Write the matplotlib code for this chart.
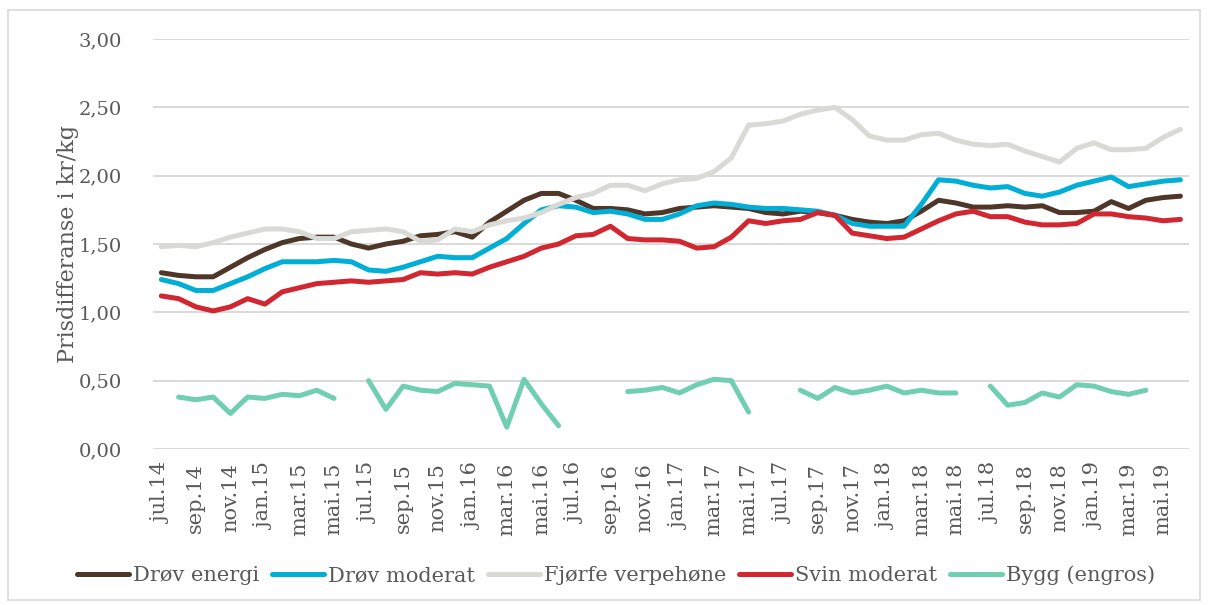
import numpy as np
import matplotlib
matplotlib.use("Agg")
import matplotlib.pyplot as plt
from matplotlib.patches import Rectangle

plt.rcParams['font.family'] = ['DejaVu Serif']

# månedlige verdier jul.14 - jun.19
maaneder = ["jan", "feb", "mar", "apr", "mai", "jun", "jul", "aug", "sep", "okt", "nov", "des"]
perioder = []
for aar in range(14, 20):
    for m in range(12):
        perioder.append(f"{maaneder[m]}.{aar}")
perioder = perioder[6:66]

drov_energi = [1.29, 1.27, 1.26, 1.26, 1.33, 1.40, 1.46, 1.51, 1.54, 1.55,
               1.55, 1.50, 1.47, 1.50, 1.52, 1.56, 1.57, 1.59, 1.55, 1.66,
               1.74, 1.82, 1.87, 1.87, 1.82, 1.76, 1.76, 1.75, 1.72, 1.73,
               1.76, 1.77, 1.78, 1.77, 1.76, 1.73, 1.72, 1.74, 1.73, 1.71,
               1.68, 1.66, 1.65, 1.67, 1.74, 1.82, 1.80, 1.77, 1.77, 1.78,
               1.77, 1.78, 1.73, 1.73, 1.74, 1.81, 1.76, 1.82, 1.84, 1.85]

drov_moderat = [1.24, 1.21, 1.16, 1.16, 1.21, 1.26, 1.32, 1.37, 1.37, 1.37,
                1.38, 1.37, 1.31, 1.30, 1.33, 1.37, 1.41, 1.40, 1.40, 1.47,
                1.54, 1.65, 1.75, 1.78, 1.77, 1.73, 1.74, 1.72, 1.68, 1.68,
                1.72, 1.78, 1.80, 1.79, 1.77, 1.76, 1.76, 1.75, 1.74, 1.71,
                1.65, 1.63, 1.63, 1.63, 1.79, 1.97, 1.96, 1.93, 1.91, 1.92,
                1.87, 1.85, 1.88, 1.93, 1.96, 1.99, 1.92, 1.94, 1.96, 1.97]

fjorfe = [1.48, 1.49, 1.48, 1.51, 1.55, 1.58, 1.61, 1.61, 1.59, 1.54,
          1.54, 1.59, 1.60, 1.61, 1.59, 1.52, 1.53, 1.61, 1.59, 1.64,
          1.67, 1.69, 1.73, 1.79, 1.84, 1.87, 1.93, 1.93, 1.89, 1.94,
          1.97, 1.98, 2.03, 2.13, 2.37, 2.38, 2.40, 2.45, 2.48, 2.50,
          2.41, 2.29, 2.26, 2.26, 2.30, 2.31, 2.26, 2.23, 2.22, 2.23,
          2.18, 2.14, 2.10, 2.20, 2.24, 2.19, 2.19, 2.20, 2.28, 2.34]

svin_moderat = [1.12, 1.10, 1.04, 1.01, 1.04, 1.10, 1.06, 1.15, 1.18, 1.21,
                1.22, 1.23, 1.22, 1.23, 1.24, 1.29, 1.28, 1.29, 1.28, 1.33,
                1.37, 1.41, 1.47, 1.50, 1.56, 1.57, 1.63, 1.54, 1.53, 1.53,
                1.52, 1.47, 1.48, 1.55, 1.67, 1.65, 1.67, 1.68, 1.73, 1.71,
                1.58, 1.56, 1.54, 1.55, 1.61, 1.67, 1.72, 1.74, 1.70, 1.70,
                1.66, 1.64, 1.64, 1.65, 1.72, 1.72, 1.70, 1.69, 1.67, 1.68]

nan = np.nan
bygg = [nan, 0.38, 0.36, 0.38, 0.26, 0.38, 0.37, 0.40, 0.39, 0.43,
        0.37, nan, 0.50, 0.29, 0.46, 0.43, 0.42, 0.48, 0.47, 0.46,
        0.16, 0.51, 0.33, 0.17, nan, nan, nan, 0.42, 0.43, 0.45,
        0.41, 0.47, 0.51, 0.50, 0.27, nan, nan, 0.43, 0.37, 0.45,
        0.41, 0.43, 0.46, 0.41, 0.43, 0.41, 0.41, nan, 0.46, 0.32,
        0.34, 0.41, 0.38, 0.47, 0.46, 0.42, 0.40, 0.43, nan, nan]

serier = [
    ("Drøv energi", drov_energi, "#4E3629"),
    ("Drøv moderat", drov_moderat, "#00AED6"),
    ("Fjørfe verpehøne", fjorfe, "#D9D9D6"),
    ("Svin moderat", svin_moderat, "#D22630"),
    ("Bygg (engros)", bygg, "#6FCFB0"),
]

tekstfarge = "#595959"

fig = plt.figure(figsize=(12.08, 6.05), dpi=100)
ax = fig.add_axes([0.1264, 0.2579, 0.8579, 0.6776])

x = np.arange(len(perioder))
for navn, verdier, farge in serier:
    ax.plot(x, verdier, color=farge, lw=3.6, label=navn, solid_capstyle="round", solid_joinstyle="round")

ax.set_xlim(-0.5, len(perioder) - 0.5)
ax.set_ylim(0, 3)
ax.set_yticks(np.arange(0, 3.01, 0.5))
ax.set_yticklabels([f"{v:.2f}".replace(".", ",") for v in np.arange(0, 3.01, 0.5)])
ax.set_xticks(x[::2])
ax.set_xticklabels(perioder[::2], rotation=90)
ax.tick_params(axis="both", length=0, colors=tekstfarge, labelsize=14)
ax.tick_params(axis="x", pad=10, labelsize=15)
ax.tick_params(axis="y", pad=22)
ax.grid(axis="y", color="#D9D9D9", lw=1.4)
ax.set_axisbelow(True)
for s in ax.spines.values():
    s.set_visible(False)

ax.set_ylabel("Prisdifferanse i kr/kg", fontsize=16, color=tekstfarge, labelpad=0)

fig.legend(loc="center", bbox_to_anchor=(0.51, 0.049), ncol=5, frameon=False,
           fontsize=15, handlelength=2.5, handletextpad=0.2, columnspacing=0.6,
           labelcolor=tekstfarge)

# ramme rundt diagrammet
fig.patches.append(Rectangle((8 / 1208, 5 / 605), 1192 / 1208, 590 / 605, transform=fig.transFigure,
                             fill=False, edgecolor="#D9D9D9", lw=1.2))

fig.savefig("out.png", dpi=100)
